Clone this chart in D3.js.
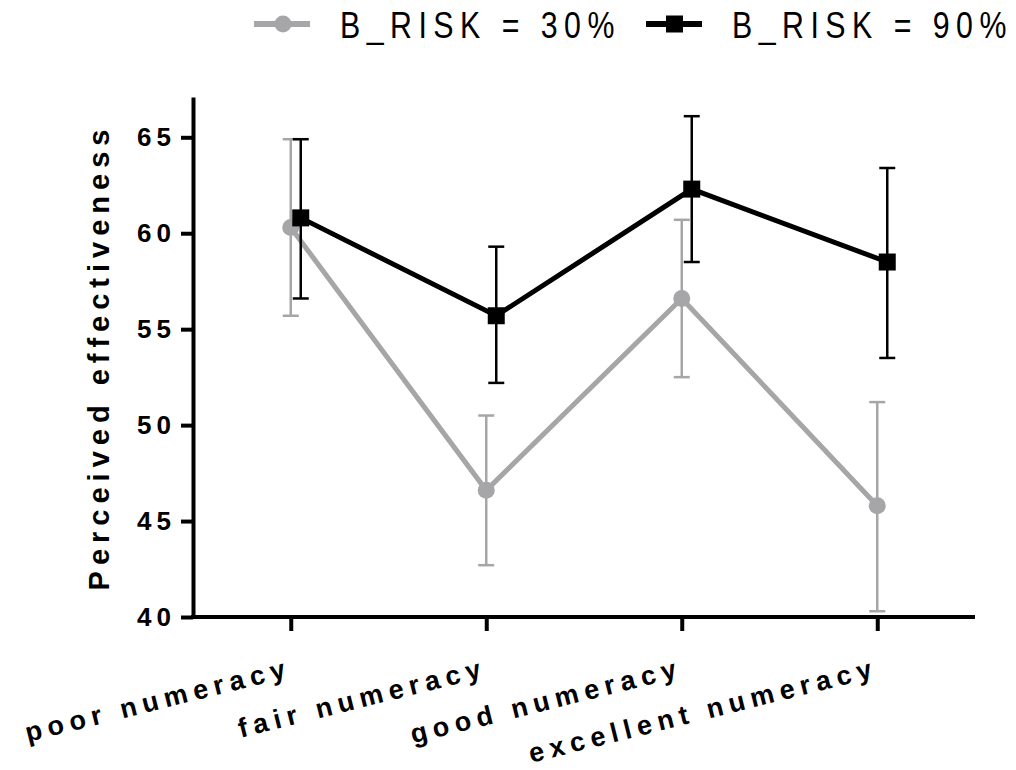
<!DOCTYPE html>
<html>
<head>
<meta charset="utf-8">
<script src="https://cdn.jsdelivr.net/npm/d3@7"></script>
<style>
  body { margin: 0; background: #fff; }
  text { font-family: "Liberation Sans", Arial, sans-serif; }
  .axis path, .axis line { stroke: #000; stroke-width: 4px; }
  .axis text { font-size: 26px; font-weight: bold; letter-spacing: 5px; fill: #000; }
</style>
</head>
<body>
<div class="chart"></div>
<script>
var svgWidth = 1016;
var svgHeight = 770;

// categories and values
var categories = ["poor numeracy", "fair numeracy", "good numeracy", "excellent numeracy"];
var yTicks = [40, 45, 50, 55, 60, 65];

var risk30 = [60.3, 46.6, 56.6, 45.8];
var risk30Low = [55.7, 42.7, 52.5, 40.3];
var risk30High = [64.9, 50.5, 60.7, 51.2];

var risk90 = [60.8, 55.7, 62.3, 58.5];
var risk90Low = [56.6, 52.2, 58.5, 53.5];
var risk90High = [64.9, 59.3, 66.1, 63.4];

var seriesNames = ["B_RISK = 30%", "B_RISK = 90%"];

var margin = { top: 97, right: 41, bottom: 153, left: 193 };
var width = svgWidth - margin.left - margin.right;
var height = svgHeight - margin.top - margin.bottom;

var svg = d3.select(".chart")
  .append("svg")
  .attr("width", svgWidth)
  .attr("height", svgHeight);

var chartGroup = svg.append("g")
  .attr("transform", `translate(${margin.left}, ${margin.top})`);

var xScale = d3.scalePoint()
  .domain(categories)
  .range([0, width])
  .padding(0.5);

var yScale = d3.scaleLinear()
  .domain([40, 67.1])
  .range([height, 0]);

// build series from the arrays
var series = [
  { name: seriesNames[0], color: "#a6a6a8", shape: "circle", dx: 0,
    values: categories.map(function(c, i) { return { cat: c, v: risk30[i], lo: risk30Low[i], hi: risk30High[i] }; }) },
  { name: seriesNames[1], color: "#000000", shape: "square", dx: 10,
    values: categories.map(function(c, i) { return { cat: c, v: risk90[i], lo: risk90Low[i], hi: risk90High[i] }; }) }
];

// axes
var leftAxis = d3.axisLeft(yScale)
  .tickValues(yTicks)
  .tickSize(12)
  .tickSizeOuter(0)
  .tickPadding(5);

var bottomAxis = d3.axisBottom(xScale)
  .tickSize(14)
  .tickSizeOuter(0)
  .tickFormat("");

chartGroup.append("g")
  .attr("class", "axis")
  .call(leftAxis);

chartGroup.append("g")
  .attr("class", "axis")
  .attr("transform", `translate(0, ${height})`)
  .call(bottomAxis)
  .call(function(g) { g.select(".domain").attr("d", `M-2,0H${width}`); });

// rotated category labels
chartGroup.selectAll(".xlabel")
  .data(categories)
  .enter()
  .append("text")
  .attr("class", "xlabel")
  .attr("transform", function(d) { return `translate(${xScale(d) + 2}, ${height + 59}) rotate(-14)`; })
  .attr("text-anchor", "end")
  .style("font-size", "27px")
  .style("font-weight", "bold")
  .style("letter-spacing", "6px")
  .text(function(d) { return d; });

// y axis title
chartGroup.append("text")
  .attr("transform", `translate(-84, ${height / 2}) rotate(-90)`)
  .attr("text-anchor", "middle")
  .style("font-size", "29px")
  .style("font-weight", "bold")
  .style("letter-spacing", "6px")
  .text("Perceived effectiveness");

var line = d3.line()
  .x(function(d) { return xScale(d.cat); })
  .y(function(d) { return yScale(d.v); });

series.forEach(function(s) {
  var g = chartGroup.append("g").attr("transform", `translate(${s.dx}, 0)`);

  // error bars
  var eb = g.selectAll(".err")
    .data(s.values)
    .enter()
    .append("g");
  eb.append("line")
    .attr("x1", function(d) { return xScale(d.cat); })
    .attr("x2", function(d) { return xScale(d.cat); })
    .attr("y1", function(d) { return yScale(d.lo); })
    .attr("y2", function(d) { return yScale(d.hi); })
    .attr("stroke", s.color)
    .attr("stroke-width", 2.5);
  ["lo", "hi"].forEach(function(k) {
    eb.append("line")
      .attr("x1", function(d) { return xScale(d.cat) - 8; })
      .attr("x2", function(d) { return xScale(d.cat) + 8; })
      .attr("y1", function(d) { return yScale(d[k]); })
      .attr("y2", function(d) { return yScale(d[k]); })
      .attr("stroke", s.color)
      .attr("stroke-width", 2.5);
  });

  g.append("path")
    .datum(s.values)
    .attr("fill", "none")
    .attr("stroke", s.color)
    .attr("stroke-width", 5)
    .attr("d", line);

  if (s.shape === "circle") {
    g.selectAll(".pt")
      .data(s.values)
      .enter()
      .append("circle")
      .attr("cx", function(d) { return xScale(d.cat); })
      .attr("cy", function(d) { return yScale(d.v); })
      .attr("r", 8.5)
      .attr("fill", s.color);
  } else {
    g.selectAll(".pt")
      .data(s.values)
      .enter()
      .append("rect")
      .attr("x", function(d) { return xScale(d.cat) - 8.5; })
      .attr("y", function(d) { return yScale(d.v) - 8.5; })
      .attr("width", 17)
      .attr("height", 17)
      .attr("fill", s.color);
  }
});

// legend
var legendX = [254, 646];
var legend = svg.selectAll(".legend")
  .data(series)
  .enter()
  .append("g")
  .attr("class", "legend")
  .attr("transform", function(d, i) { return `translate(${legendX[i]}, 24)`; });

legend.append("line")
  .attr("x1", 0).attr("x2", 56)
  .attr("stroke", function(d) { return d.color; })
  .attr("stroke-width", 6);

legend.each(function(d) {
  var g = d3.select(this);
  if (d.shape === "circle") {
    g.append("circle").attr("cx", 29).attr("r", 8.5).attr("fill", d.color);
  } else {
    g.append("rect").attr("x", 20).attr("y", -8.5).attr("width", 17).attr("height", 17).attr("fill", d.color);
  }
});

// narrow, tall legend lettering
legend.append("text")
  .attr("transform", "translate(86, 14) scale(0.82, 1)")
  .style("font-size", "37px")
  .style("letter-spacing", "7.9px")
  .attr("fill", "#000")
  .text(function(d) { return d.name; });
</script>
</body>
</html>
